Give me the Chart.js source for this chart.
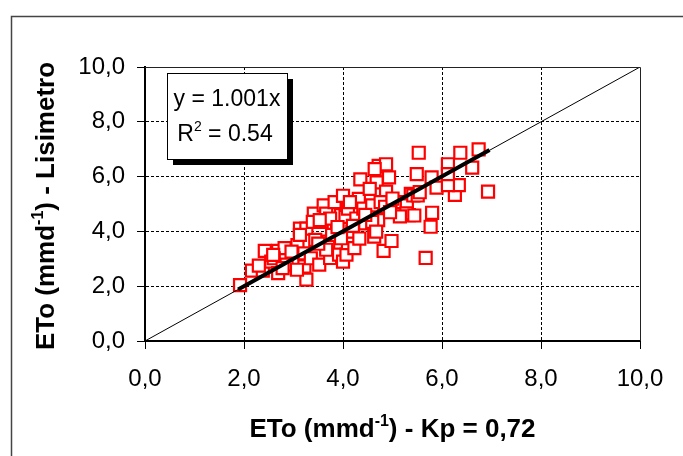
<!DOCTYPE html>
<html>
<head>
<meta charset="utf-8">
<script src="https://cdn.jsdelivr.net/npm/chart.js@4/dist/chart.umd.min.js"></script>
<style>
  html, body { margin: 0; padding: 0; background: #fff; }
  #wrap { width: 683px; height: 456px; }
</style>
</head>
<body>
<div id="wrap"><canvas id="chart" width="683" height="456"></canvas></div>
<script>
// ETo tanque classe A (Kp = 0,72) x ETo lisimetro, mm/dia
const etoPan = [
  1.92, 2.16, 2.38, 2.42, 2.30, 2.55, 2.69, 2.73, 2.69, 2.82, 2.60, 2.86, 2.78,
  3.08, 3.13, 3.26, 3.26, 3.22, 3.07, 3.22, 3.44, 3.41, 3.39, 3.13, 3.35,
  3.61, 3.66, 3.57, 3.52, 3.74, 3.70, 3.83, 3.88, 3.78, 3.66, 3.92, 4.00, 3.96, 3.74,
  4.00, 4.05, 4.10, 4.07, 4.10, 4.23, 4.19, 4.27, 4.32, 4.35, 4.41, 4.45, 4.14, 3.96,
  4.59, 4.68, 4.72, 4.87, 4.93, 4.87, 4.63, 4.71, 4.59, 4.82, 4.98, 4.67, 4.54, 4.76, 4.64,
  5.11, 5.24, 5.33, 5.07, 5.20, 5.37, 5.29, 5.49, 5.42, 5.28, 5.44,
  5.53, 5.51, 5.79, 5.89, 5.80, 5.77, 5.67, 5.55,
  6.12, 6.37, 6.74, 6.61, 6.26, 6.34, 6.12, 6.93, 6.12,
  2.59, 2.96, 3.53, 3.89, 4.33, 3.50, 4.20, 4.45, 4.85, 5.00, 5.15, 4.95
];
const etoLis = [
  2.04, 2.57, 2.57, 3.29, 2.75, 2.90, 3.29, 3.05, 2.48, 3.39, 3.02, 2.79, 2.66,
  3.50, 4.10, 4.10, 2.24, 2.72, 2.60, 3.20, 3.69, 4.65, 4.35, 3.87, 3.02,
  4.95, 4.65, 4.35, 2.79, 3.03, 3.63, 5.07, 4.10, 3.87, 3.33, 3.15, 2.90, 4.59, 4.47,
  5.30, 4.53, 4.83, 3.15, 3.57, 3.39, 3.99, 4.47, 5.19, 5.90, 4.83, 4.29, 5.07, 3.75,
  4.95, 5.79, 6.39, 6.45, 5.97, 5.45, 3.81, 4.41, 4.35, 3.29, 3.65, 3.99, 5.55, 5.07, 6.27,
  5.07, 4.71, 4.59, 4.85, 5.07, 5.37, 4.95, 6.09, 5.31, 4.66, 4.58,
  6.87, 5.31, 5.97, 5.60, 4.68, 4.17, 3.03, 5.43,
  6.45, 6.87, 6.99, 6.33, 5.33, 5.69, 5.69, 5.45, 6.09,
  3.14, 3.26, 4.41, 4.16, 3.74, 3.55, 4.20, 4.60, 4.90, 5.20, 4.55, 4.70
];

// reta de regressao (y = 1.001x) e reta 1:1
const fitX = [1.88, 6.96];
const fitY = [1.88, 6.97];
const oneToOneX = [0, 10];
const oneToOneY = [0, 10];

const tickValues = [0, 2, 4, 6, 8, 10];
const tickLabels = ['0,0', '2,0', '4,0', '6,0', '8,0', '10,0'];

const FONT = '"Liberation Sans", Arial, sans-serif';

const toPoints = (xs, ys) => xs.map((x, i) => ({ x: x, y: ys[i] }));

// texto com expoente (mmd-1, R2)
function drawParts(ctx, parts, size, weight, x, y) {
  let total = 0;
  parts.forEach(p => {
    ctx.font = `${weight} ${p.sup ? Math.round(size * 0.6) : size}px ${FONT}`;
    p.w = ctx.measureText(p.t).width;
    total += p.w;
  });
  let cx = x - total / 2;
  parts.forEach(p => {
    ctx.font = `${weight} ${p.sup ? Math.round(size * 0.6) : size}px ${FONT}`;
    ctx.fillText(p.t, cx, p.sup ? y - size * 0.42 : y);
    cx += p.w;
  });
}

const decor = {
  id: 'decor',
  beforeDraw(chart) {
    const ctx = chart.ctx;
    ctx.save();
    ctx.strokeStyle = '#444';
    ctx.lineWidth = 1.5;
    ctx.strokeRect(11.5, 16.5, 800, 600);
    ctx.restore();
  },
  afterDraw(chart) {
    const ctx = chart.ctx;
    const a = chart.chartArea;
    ctx.save();
    // borda superior e direita da area do grafico
    ctx.strokeStyle = '#222';
    ctx.lineWidth = 1;
    ctx.beginPath();
    ctx.moveTo(a.left, a.top + 0.5);
    ctx.lineTo(a.right + 0.5, a.top + 0.5);
    ctx.lineTo(a.right + 0.5, a.bottom);
    ctx.stroke();

    ctx.fillStyle = '#000';
    ctx.textBaseline = 'alphabetic';
    ctx.textAlign = 'left';

    // titulo eixo x
    drawParts(ctx, [
      { t: 'ETo (mmd' }, { t: '-1', sup: true }, { t: ') - Kp = 0,72' }
    ], 26, 'bold', (a.left + a.right) / 2, 437);

    // titulo eixo y
    ctx.save();
    ctx.translate(54, (a.top + a.bottom) / 2 + 2);
    ctx.rotate(-Math.PI / 2);
    drawParts(ctx, [
      { t: 'ETo (mmd' }, { t: '-1', sup: true }, { t: ') - Lisimetro' }
    ], 26, 'bold', 0, 0);
    ctx.restore();

    // caixa da equacao
    const bx = 167, by = 73, bw = 120, bh = 86;
    ctx.fillStyle = '#000';
    ctx.fillRect(bx + 6, by + 6, bw, bh);
    ctx.fillStyle = '#fff';
    ctx.fillRect(bx, by, bw, bh);
    ctx.strokeStyle = '#000';
    ctx.lineWidth = 1;
    ctx.strokeRect(bx + 0.5, by + 0.5, bw, bh);
    ctx.fillStyle = '#000';
    drawParts(ctx, [{ t: 'y = 1.001x' }], 23, 'normal', bx + bw / 2, 106);
    drawParts(ctx, [{ t: 'R' }, { t: '2', sup: true }, { t: ' = 0.54' }], 23, 'normal', bx + bw / 2 - 2, 141);
    ctx.restore();
  }
};

const axisCommon = {
  type: 'linear',
  min: 0,
  max: 10,
  afterBuildTicks: (scale) => { scale.ticks = tickValues.map(v => ({ value: v })); },
  ticks: {
    color: '#000',
    font: { family: FONT, size: 24 },
    callback: (v) => tickLabels[tickValues.indexOf(v)]
  },
  grid: {
    color: (c) => (c.tick && c.tick.value > 0 && c.tick.value < 10) ? '#000' : 'rgba(0,0,0,0)',
    lineWidth: 1,
    tickLength: 8,
    tickColor: '#000',
    drawTicks: true
  },
  border: { display: true, color: '#000', width: 2, dash: [3, 2] }
};

new Chart(document.getElementById('chart'), {
  type: 'scatter',
  data: {
    datasets: [
      {
        type: 'line',
        data: toPoints(oneToOneX, oneToOneY),
        borderColor: '#000',
        borderWidth: 1,
        pointRadius: 0,
        order: 0
      },
      {
        type: 'line',
        data: toPoints(fitX, fitY),
        borderColor: '#000',
        borderWidth: 4,
        pointRadius: 0,
        order: 0
      },
      {
        data: toPoints(etoPan, etoLis),
        pointStyle: 'rect',
        pointRadius: 8.5,
        pointBorderWidth: 2.2,
        pointBorderColor: '#ff0000',
        pointBackgroundColor: '#fff',
        order: 1
      }
    ]
  },
  options: {
    responsive: false,
    devicePixelRatio: 1,
    animation: false,
    layout: { padding: { left: 0, top: 67, right: 43, bottom: 0 } },
    plugins: {
      legend: { display: false },
      tooltip: { enabled: false }
    },
    scales: {
      x: Object.assign({}, axisCommon, {
        position: 'bottom',
        ticks: Object.assign({}, axisCommon.ticks, { padding: 16, maxRotation: 0 }),
        afterFit: (s) => { s.height = 115; }
      }),
      y: Object.assign({}, axisCommon, {
        position: 'left',
        ticks: Object.assign({}, axisCommon.ticks, { padding: 12 }),
        afterFit: (s) => { s.width = 145; }
      })
    }
  },
  plugins: [decor]
});
</script>
</body>
</html>
